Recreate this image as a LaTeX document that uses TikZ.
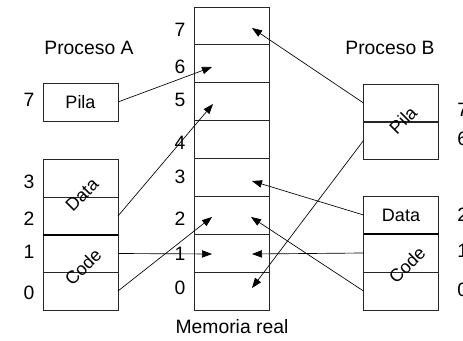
\documentclass[tikz,border=0pt]{standalone}
\usepackage{fontspec}
\setmainfont{Liberation Sans}
\usetikzlibrary{arrows.meta}
\begin{document}
\begin{tikzpicture}[x=0.75pt,y=-0.75pt,
  cell/.style={draw=black!85, line width=0.6pt, minimum width=56.25pt, minimum height=28.4pt, inner sep=0pt, outer sep=0pt},
  lbl/.style={font=\fontsize{14.5}{16}\selectfont, inner sep=0pt},
  boxlbl/.style={font=\fontsize{13.5}{15}\selectfont, inner sep=0pt},
  ptr/.style={line width=0.5pt, -{Triangle[length=7.5pt,width=5.5pt]}},
  sep/.style={line width=1.1pt}]
\useasboundingbox (0,0) rectangle (463,341);

% Physical memory: eight frames
\node[cell] (m7) at (231.5,25.9) {};
\node[cell] (m6) at (231.5,63.8) {};
\node[cell] (m5) at (231.5,101.7) {};
\node[cell] (m4) at (231.5,139.6) {};
\node[cell] (m3) at (231.5,177.4) {};
\node[cell] (m2) at (231.5,215.3) {};
\node[cell] (m1) at (231.5,253.2) {};
\node[cell] (m0) at (231.5,291.1) {};
\node[lbl] (mt) at (232,327) {Memoria real};

% Frame numbers
\node[lbl] (n7) at (180,30) {7};
\node[lbl] (n6) at (180,67) {6};
\node[lbl] (n5) at (180,100) {5};
\node[lbl] (n4) at (180,143) {4};
\node[lbl] (n3) at (180,177) {3};
\node[lbl] (n2) at (180,219) {2};
\node[lbl] (n1) at (180,254) {1};
\node[lbl] (n0) at (180,288) {0};

% Process A
\node[lbl] (pa) at (89,48) {Proceso A};
\node[cell] (ap7) at (80.5,102) {};
\node[boxlbl] at (ap7) {Pila};
\node[cell] (ap3) at (80.5,178) {};
\node[cell] (ap2) at (80.5,216) {};
\node[cell] (ap1) at (80.5,253.5) {};
\node[cell] (ap0) at (80.5,291) {};
\draw[sep] (ap2.south west) -- (ap2.south east);
\node[boxlbl, rotate=45] (ad) at (82,195) {Data};
\node[boxlbl, rotate=45] (ac) at (83,267) {Code};
\node[lbl] (a7) at (29,100) {7};
\node[lbl] (a3) at (29,182) {3};
\node[lbl] (a2) at (29,219) {2};
\node[lbl] (a1) at (29,252) {1};
\node[lbl] (a0) at (29,293) {0};

% Process B
\node[lbl] (pb) at (390,48) {Proceso B};
\node[cell] (bp7) at (401,103) {};
\node[cell] (bp6) at (401,140.5) {};
\node[boxlbl, rotate=45] (bpl) at (403,120) {Pila};
\node[cell] (bd2) at (401,215) {};
\node[cell] (bc1) at (401,253) {};
\node[cell] (bc0) at (401,291) {};
\draw[sep] (bd2.south west) -- (bd2.south east);
\node[boxlbl] (bdl) at (bd2) {Data};
\node[boxlbl, rotate=45] (bcl) at (407,265) {Code};
\node[lbl, anchor=west] (b7) at (457,110) {7};
\node[lbl, anchor=west] (b6) at (457,139) {6};
\node[lbl, anchor=west] (b2) at (457,215) {2};
\node[lbl, anchor=west] (b1) at (457,251) {1};
\node[lbl, anchor=west] (b0) at (457,290) {0};

% Arrow targets inside the frames
\coordinate (t6) at (212,67);
\coordinate (t5) at (213,104);
\coordinate (t2l) at (212,217);
\coordinate (t1l) at (212,254);
\coordinate (t7) at (252,28);
\coordinate (t3) at (252,181);
\coordinate (t2r) at (251,217);
\coordinate (t1r) at (252,254);
\coordinate (t0) at (252,288);

% Page table of process A
\draw[ptr] (ap7.east) -- (t6);
\draw[ptr] (ap2.east) -- (t5);
\draw[ptr] (ap1.east) -- (t1l);
\draw[ptr] (ap0.east) -- (t2l);

% Page table of process B
\draw[ptr] (bp7.west) -- (t7);
\draw[ptr] (bp6.west) -- (t0);
\draw[ptr] (bd2.west) -- (t3);
\draw[ptr] (bc1.west) -- (t1r);
\draw[ptr] (bc0.west) -- (t2r);
\end{tikzpicture}
\end{document}
